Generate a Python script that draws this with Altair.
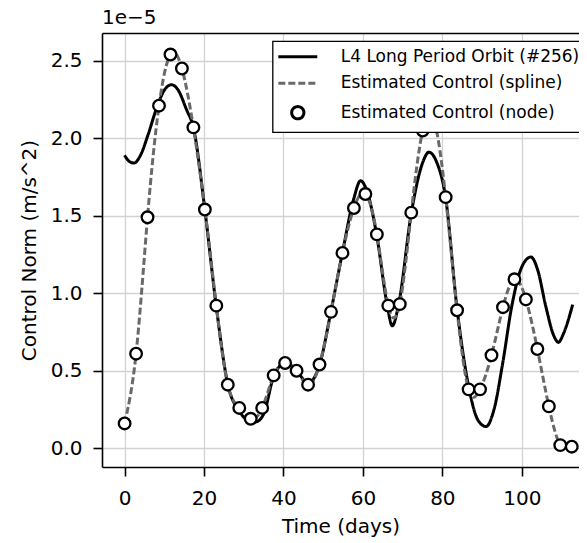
import altair as alt
import pandas as pd

# ---- data (control norm in units of 1e-5 m/s^2) ----
node_t = [0.0, 2.89, 5.77, 8.66, 11.55, 14.43, 17.32, 20.21, 23.09, 25.98,
          28.87, 31.75, 34.64, 37.53, 40.41, 43.30, 46.19, 49.07, 51.96, 54.85,
          57.73, 60.62, 63.51, 66.39, 69.28, 72.17, 75.05, 77.94, 80.83, 83.71,
          86.60, 89.49, 92.37, 95.26, 98.15, 101.03, 103.92, 106.81, 109.69, 112.58]
node_v = [0.16, 0.61, 1.49, 2.21, 2.54, 2.45, 2.07, 1.54, 0.92, 0.41,
          0.26, 0.19, 0.26, 0.47, 0.55, 0.50, 0.41, 0.54, 0.88, 1.26,
          1.55, 1.64, 1.38, 0.92, 0.93, 1.52, 2.05, 2.11, 1.62, 0.89,
          0.38, 0.38, 0.60, 0.91, 1.09, 0.96, 0.64, 0.27, 0.02, 0.01]

orbit_t = [0.0, 1.2, 2.4, 4.0, 6.0, 8.0, 10.0, 11.8, 13.5, 15.5, 17.4, 20.2,
           23.1, 26.0, 28.9, 31.0, 33.0, 35.0, 37.5, 40.4, 43.3, 46.2, 49.1,
           52.0, 54.9, 57.7, 59.4, 61.0, 63.5, 66.0, 67.4, 69.0, 72.2, 75.0,
           76.6, 78.5, 80.8, 83.7, 86.6, 89.0, 91.0, 93.0, 95.2, 97.5, 100.0,
           102.3, 104.0, 106.0, 108.0, 109.2, 110.5, 112.8]
orbit_v = [1.89, 1.85, 1.84, 1.89, 2.03, 2.19, 2.31, 2.345, 2.31, 2.19, 2.06, 1.54,
           0.91, 0.41, 0.24, 0.18, 0.17, 0.22, 0.46, 0.55, 0.50, 0.42, 0.54,
           0.89, 1.27, 1.61, 1.726, 1.66, 1.37, 0.94, 0.79, 0.93, 1.52, 1.84,
           1.91, 1.85, 1.62, 0.90, 0.40, 0.18, 0.14, 0.25, 0.55, 0.92, 1.17,
           1.234, 1.15, 0.92, 0.73, 0.683, 0.74, 0.926]

labels = ["L4 Long Period Orbit (#256)", "Estimated Control (spline)",
          "Estimated Control (node)"]
x_ticks = [0, 20, 40, 60, 80, 100]
y_ticks = [0.0, 0.5, 1.0, 1.5, 2.0, 2.5]

orbit_df = pd.DataFrame({"t": orbit_t, "v": orbit_v, "series": labels[0]})
spline_df = pd.DataFrame({"t": node_t, "v": node_v, "series": labels[1]})
node_df = pd.DataFrame({"t": node_t, "v": node_v, "series": labels[2]})

FONT = "DejaVu Sans"
xscale = alt.Scale(domain=[-5.69, 114.4], nice=False, zero=False)
yscale = alt.Scale(domain=[-0.121, 2.679], nice=False, zero=False)

legend = alt.Legend(
    title=None, orient="none", legendX=170.6, legendY=8.2,
    padding=7, rowPadding=8.5, symbolOffset=9.7, labelOffset=34.4,
    labelFont=FONT, labelFontSize=17, labelColor="black", labelLimit=400,
    symbolSize=150, symbolStrokeWidth=3,
    strokeColor="black", fillColor="white",
)
color = alt.Color("series:N", legend=legend,
                  scale=alt.Scale(domain=labels, range=["#000000", "#696969", "#000000"]))
dash = alt.StrokeDash("series:N", legend=legend,
                      scale=alt.Scale(domain=labels, range=[[1, 0], [7, 3], [1, 0]]))
shape = alt.Shape("series:N", legend=legend,
                  scale=alt.Scale(domain=labels,
                                  range=["M-3.18,0H3.18", "M-3.18,0H3.18", "circle"]))

x_bottom = alt.X("t:Q", scale=xscale, title="Time (days)",
                 axis=alt.Axis(values=x_ticks, format="d", grid=True))
x_top = alt.X("t:Q", scale=xscale, title=None,
              axis=alt.Axis(orient="top", labels=False, ticks=False, grid=False,
                            domain=True))
y_enc = alt.Y("v:Q", scale=yscale, title="Control Norm (m/s^2)",
              axis=alt.Axis(values=y_ticks, format=".1f", grid=True, titlePadding=11))

orbit = alt.Chart(orbit_df).mark_line(strokeWidth=3, interpolate="monotone").encode(
    x=x_bottom, y=y_enc, color=color, strokeDash=dash)

spline = alt.Chart(spline_df).mark_line(strokeWidth=3, interpolate="natural").encode(
    x=x_top, y=y_enc, color=color, strokeDash=dash)

nodes = alt.Chart(node_df).mark_point(filled=False, fill="white", fillOpacity=1,
                                      size=135, strokeWidth=2.3, opacity=1).encode(
    x=alt.X("t:Q", scale=xscale, axis=None), y=y_enc, color=color, shape=shape)

chart = alt.layer(orbit, spline, nodes).resolve_axis(x="independent").properties(
    width=477, height=434,
    autosize=alt.AutoSizeParams(type="none"),
    padding={"left": 94, "top": 25, "right": 0, "bottom": 76},
    title=alt.TitleParams("1e\u22125", anchor="start", frame="group", font=FONT,
                          fontSize=20, fontWeight="normal", color="black", offset=5),
).configure_view(stroke=None).configure_axis(
    domainColor="black", domainWidth=1.6, tickColor="black", tickWidth=1.6,
    tickSize=9, labelFont=FONT, labelFontSize=20, labelColor="black",
    labelPadding=11, titleFont=FONT, titleFontSize=20, titleFontWeight="normal",
    titleColor="black", gridColor="#d3d3d3", gridWidth=1.3, titlePadding=8,
).configure_axisX(labelPadding=12).configure_legend(strokeWidth=1.3)

chart.save("out.html", embed_options={"renderer": "svg", "actions": False})
